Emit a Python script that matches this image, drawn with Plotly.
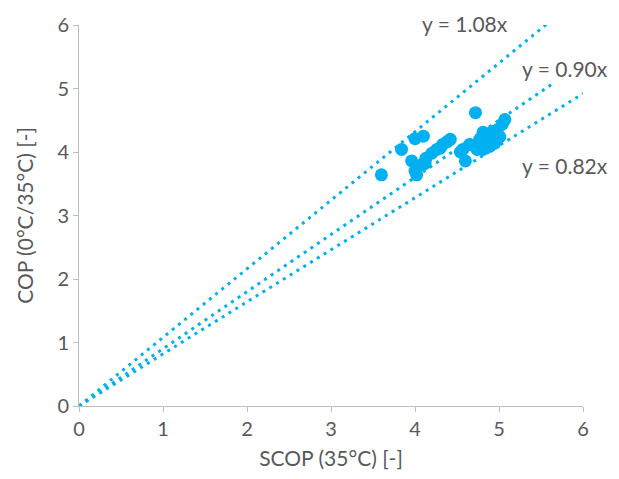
import plotly.graph_objects as go

# Measured units: seasonal COP vs. COP at 0°C/35°C
scop = [3.60, 3.84, 4.00, 4.10, 3.96, 4.00, 4.02, 4.08, 4.13, 4.20, 4.26, 4.33,
        4.30, 4.42, 4.54, 4.57, 4.60, 4.65, 4.72, 4.74, 4.77, 4.81, 4.81, 4.87,
        4.89, 4.92, 4.98, 5.01, 5.04, 5.07, 4.12, 4.38, 4.95]
cop = [3.64, 4.04, 4.21, 4.25, 3.86, 3.70, 3.64, 3.80, 3.90, 3.98, 4.04, 4.12,
       4.06, 4.20, 4.00, 4.04, 3.86, 4.12, 4.62, 4.04, 4.20, 4.31, 4.04, 4.23,
       4.09, 4.32, 4.35, 4.24, 4.44, 4.51, 3.82, 4.16, 4.14]

# Proportional reference lines y = k*x
slopes = [1.08, 0.90, 0.82]
x_end = [5.56, 5.64, 6.0]
line_labels = ["y = 1.08x", "y = 0.90x", "y = 0.82x"]
label_x = [4.60, 5.79, 5.79]
label_y = [6.03, 5.32, 3.78]

blue = "#00B0F0"
grey_text = "#595959"
axis_grey = "#BFBFBF"
font_family = "Lato, 'Open Sans', sans-serif"

fig = go.Figure()

for k, xe in zip(slopes, x_end):
    fig.add_trace(go.Scatter(
        x=[0, xe], y=[0, k * xe], mode="lines",
        line=dict(color=blue, width=3, dash="3px,5px"),
        hoverinfo="skip", showlegend=False,
    ))

fig.add_trace(go.Scatter(
    x=scop, y=cop, mode="markers",
    marker=dict(color=blue, size=13, line=dict(width=0)),
    showlegend=False,
))

# Labels sit in paper coordinates so the top one is not clipped by the axis range
for txt, lx, ly in zip(line_labels, label_x, label_y):
    fig.add_annotation(x=lx / 6, y=ly / 6, xref="paper", yref="paper",
                       xanchor="center", yanchor="middle",
                       text=txt, showarrow=False,
                       font=dict(size=21, color=grey_text, family=font_family))

axis_common = dict(
    range=[0, 6], dtick=1, tick0=0, showgrid=False, zeroline=False,
    showline=True, linecolor=axis_grey, linewidth=1,
    ticks="outside", ticklen=5, tickcolor=axis_grey,
    tickfont=dict(size=20, color=grey_text, family=font_family),
)

fig.update_layout(
    width=619, height=479,
    margin=dict(l=79, r=36, t=18, b=72),
    plot_bgcolor="white", paper_bgcolor="white",
    xaxis=dict(**axis_common,
               title=dict(text="SCOP (35°C) [-]", standoff=12,
                          font=dict(size=21, color=grey_text, family=font_family))),
    yaxis=dict(**axis_common,
               title=dict(text="COP (0°C/35°C) [-]", standoff=18,
                          font=dict(size=21, color=grey_text, family=font_family))),
)

fig.write_html("out.html")
